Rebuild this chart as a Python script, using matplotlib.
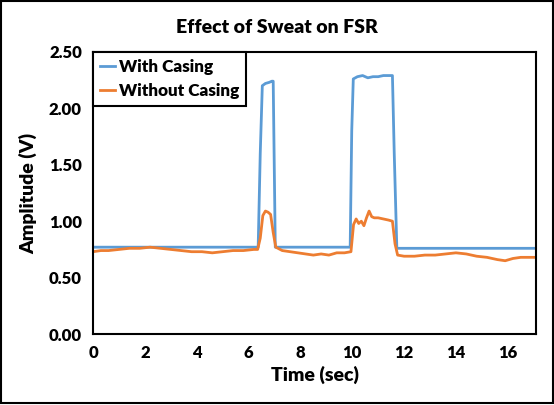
import matplotlib.pyplot as plt
from matplotlib.patches import Rectangle

# time (sec) and amplitude (V)
t_with = [0.0, 3.0, 6.3, 6.37, 6.45, 6.53, 6.65, 6.8, 6.9, 6.95, 7.03, 9.92, 9.98, 10.04,
          10.2, 10.4, 10.6, 10.8, 11.0, 11.2, 11.45, 11.55, 11.62, 11.72, 14.0, 17.0]
v_with = [0.77, 0.77, 0.77, 0.77, 1.6, 2.2, 2.22, 2.23, 2.24, 2.24, 0.77, 0.77, 1.8, 2.26,
          2.28, 2.29, 2.27, 2.28, 2.28, 2.29, 2.29, 2.29, 1.6, 0.76, 0.76, 0.76]

t_without = [0.0, 0.3, 0.6, 1.0, 1.4, 1.8, 2.2, 2.6, 3.0, 3.4, 3.8, 4.2, 4.6, 5.0, 5.4, 5.8,
             6.2, 6.35, 6.45, 6.55, 6.65, 6.75, 6.85, 6.95, 7.05, 7.3, 7.6, 7.9, 8.2, 8.5,
             8.8, 9.1, 9.4, 9.7, 9.95, 10.05, 10.15, 10.25, 10.35, 10.45, 10.55, 10.65,
             10.75, 10.85, 11.0, 11.2, 11.4, 11.55, 11.65, 11.75, 12.0, 12.4, 12.8, 13.2,
             13.6, 14.0, 14.4, 14.8, 15.2, 15.6, 15.9, 16.2, 16.5, 16.8, 17.0]
v_without = [0.73, 0.74, 0.74, 0.75, 0.76, 0.76, 0.77, 0.76, 0.75, 0.74, 0.73, 0.73, 0.72,
             0.73, 0.74, 0.74, 0.75, 0.75, 0.85, 1.05, 1.09, 1.08, 1.06, 0.9, 0.77, 0.74,
             0.73, 0.72, 0.71, 0.70, 0.71, 0.70, 0.72, 0.72, 0.73, 0.97, 1.02, 0.98, 1.00,
             0.96, 1.03, 1.09, 1.04, 1.03, 1.03, 1.02, 1.01, 1.00, 0.80, 0.70, 0.69, 0.69,
             0.70, 0.70, 0.71, 0.72, 0.71, 0.69, 0.68, 0.66, 0.65, 0.67, 0.68, 0.68, 0.68]

x_ticks = [0, 2, 4, 6, 8, 10, 12, 14, 16]
y_ticks = [0.0, 0.5, 1.0, 1.5, 2.0, 2.5]

plt.rcParams['font.family'] = ['Lato', 'DejaVu Sans']

fig = plt.figure(figsize=(5.54, 4.05), dpi=100)
ax = fig.add_axes([0.168, 0.175, 0.8, 0.697])

ax.plot(t_with, v_with, color='#5B9BD5', lw=2.0, label='With Casing')
ax.plot(t_without, v_without, color='#ED7D31', lw=2.0, label='Without Casing')

ax.set_xlim(0, 17.1)
ax.set_ylim(0, 2.5)
ax.set_xticks(x_ticks)
ax.set_yticks(y_ticks)
ax.set_yticklabels(['%.2f' % v for v in y_ticks])
ax.tick_params(length=0, labelsize=12, pad=8)
for lbl in ax.get_xticklabels() + ax.get_yticklabels():
    lbl.set_fontweight('heavy')
for s in ax.spines.values():
    s.set_linewidth(1.5)

ax.set_xlabel('Time (sec)', fontsize=14, fontweight='heavy', labelpad=3)
ax.set_ylabel('Amplitude (V)', fontsize=14, fontweight='heavy', labelpad=8)
fig.text(0.5, 0.933, 'Effect of Sweat on FSR', ha='center', va='center',
         fontsize=14, fontweight='heavy')

leg = ax.legend(loc='upper left', bbox_to_anchor=(0.0, 1.0), frameon=True, fancybox=False,
                framealpha=1, edgecolor='black', handlelength=0.9, handletextpad=0.2,
                borderpad=0.4, labelspacing=0.5, borderaxespad=0,
                prop={'weight': 'heavy', 'size': 12.3})
leg.get_frame().set_linewidth(1.5)

fig.patches.append(Rectangle((0.002, 0.004), 0.996, 0.994, transform=fig.transFigure,
                             fill=False, edgecolor='black', lw=1.5))

fig.savefig('out.png', dpi=100)
